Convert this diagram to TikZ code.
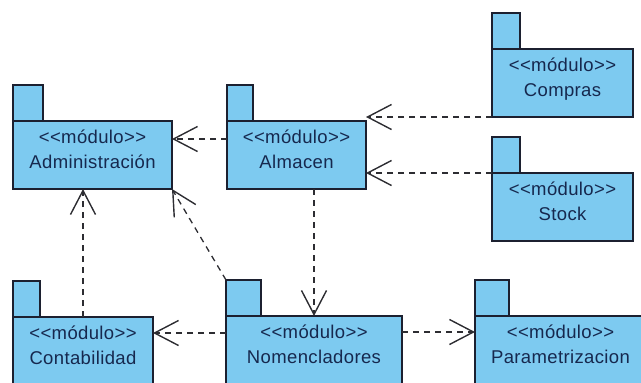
\documentclass[tikz,border=0pt]{standalone}
\usepackage{fontspec}
\setmainfont[LetterSpace=2]{Liberation Sans}
\usetikzlibrary{arrows.meta,calc}

\definecolor{pkgfill}{RGB}{125,202,240}
\definecolor{pkgline}{RGB}{28,32,48}
\definecolor{pkgtext}{RGB}{22,40,78}
\definecolor{depline}{RGB}{45,45,50}

\tikzset{
  pkgbody/.style={draw=pkgline, fill=pkgfill, line width=1.3pt, inner sep=0pt,
    outer sep=0pt, anchor=north west, minimum height=68pt},
  pkgtab/.style={draw=pkgline, fill=pkgfill, line width=1.3pt, inner sep=0pt,
    outer sep=0pt, anchor=south west, minimum height=36pt},
  pkgstereo/.style={text=pkgtext, font=\fontsize{18.5}{20}\selectfont,
    anchor=base, inner sep=0pt},
  pkgname/.style={text=pkgtext, font=\fontsize{18.5}{20}\selectfont,
    anchor=base, inner sep=0pt},
  dep/.style={draw=depline, line width=1.3pt, dash pattern=on 6pt off 5pt,
    -{Straight Barb[length=24pt, width=25pt, line width=1.4pt]}}
}

% UML package: name, x, y (top-left of body), body width, tab width, title
\newcommand\umlpackage[6]{%
  \node[pkgbody, minimum width=#4pt] (#1) at (#2,#3) {};
  \node[pkgtab, minimum width=#5pt] (#1tab) at (#1.north west) {};
  \node[pkgstereo] (#1st) at ($(#1.north)+(0,22)$) {<{}<módulo>{}>};
  \node[pkgname] (#1nm) at ($(#1.north)+(0,47)$) {#6};
}

\begin{document}
\begin{tikzpicture}[x=1pt, y=-1pt]
  \useasboundingbox (0,0) rectangle (641,383);
  \clip (0,0) rectangle (641,383);

  \umlpackage{adm}{13}{121}{159}{30}{Administración}
  \umlpackage{alm}{227}{121}{139}{26}{Almacen}
  \umlpackage{com}{492}{49}{141}{28}{Compras}
  \umlpackage{sto}{492}{173}{141}{28}{Stock}
  \umlpackage{con}{13}{317}{140}{27}{Contabilidad}
  \umlpackage{nom}{226}{316}{176}{35}{Nomencladores}
  \umlpackage{par}{475}{316}{171}{34}{Parametrizacion}

  % connector end points on the box sides
  \coordinate (almL) at ($(alm.north west)+(0,18)$);
  \coordinate (nomL) at ($(nom.north west)+(0,17)$);
  \coordinate (nomR) at ($(nom.north east)+(0,16)$);

  % dependencies
  \draw[dep] (almL) -- (almL -| adm.east);
  \draw[dep] (com.south west) -- (com.south west -| alm.east);
  \draw[dep] (sto.north west) -- (sto.north west -| alm.east);
  \draw[dep] (alm.south -| nom.north) -- (nom.north);
  \draw[dep] (con.north) -- (con.north |- adm.south);
  \draw[dep] (nomtab.north west) -- (adm.south east);
  \draw[dep] (nomL) -- (nomL -| con.east);
  \draw[dep] (nomR) -- (nomR -| par.west);
\end{tikzpicture}
\end{document}
